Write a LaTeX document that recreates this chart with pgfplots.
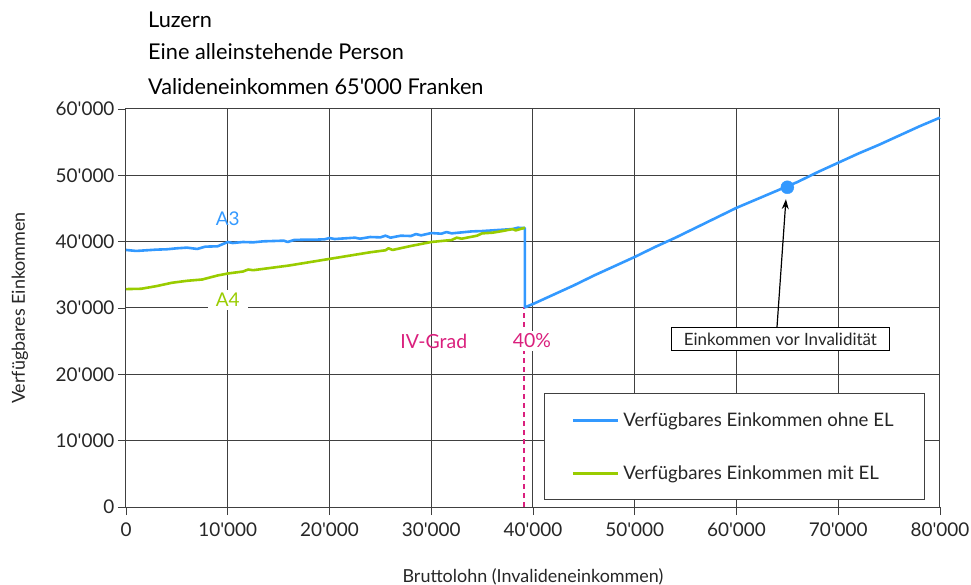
\documentclass[border=0pt]{standalone}
\usepackage{fontspec}
\setmainfont{Lato}
\usepackage{pgfplots}
\pgfplotsset{compat=1.18}
\usetikzlibrary{arrows.meta}
\definecolor{cblue}{RGB}{51,153,255}
\definecolor{cgreen}{RGB}{153,204,0}
\definecolor{cmag}{RGB}{218,32,125}
\definecolor{cgrid}{RGB}{64,64,64}
\newcommand\ap{\textquotesingle}

\pgfplotstableread{
x y
0 38750
1000 38600
2000 38700
3000 38800
4000 38850
5000 39000
6000 39100
7000 38900
7800 39250
9000 39300
10000 39950
10500 39800
11500 39950
12500 39900
13500 40050
14500 40100
15500 40150
15900 39950
16500 40250
17500 40300
18500 40300
19500 40350
20000 40550
20500 40400
21500 40500
22500 40600
23000 40450
24000 40700
25000 40650
25500 40900
26000 40600
27000 40900
28000 40850
28500 41150
29000 40950
30000 41300
31000 41200
31500 41450
32000 41250
33000 41400
34000 41550
35000 41600
36000 41700
37000 41800
38000 41900
38500 42100
39200 42050
39200 30100
40000 30600
42000 32000
44000 33400
46000 34900
48000 36300
50000 37700
52000 39200
54000 40600
56000 42100
58000 43600
60000 45100
62000 46400
64000 47700
66000 49000
68000 50500
70000 51900
72000 53300
74000 54600
76000 56000
78000 57400
80000 58700
}\ohneEL

\pgfplotstableread{
x y
0 32850
1500 32900
3000 33300
4500 33800
6000 34100
7500 34300
9000 34900
10000 35200
11500 35500
12000 35800
12500 35700
14000 36000
16000 36400
18000 36900
20000 37400
22000 37900
24000 38400
25500 38700
25800 39000
26200 38750
28000 39350
30000 39950
32000 40250
32500 40600
33000 40450
34500 40900
35000 41250
36000 41350
37000 41600
38000 41900
38300 41700
39200 42100
}\mitEL

\begin{document}
\begin{tikzpicture}
\useasboundingbox (-126bp,-78bp) rectangle (845bp,507bp);
\begin{axis}[
  at={(0,0)}, anchor=south west, scale only axis,
  width=814bp, height=398bp,
  xmin=0, xmax=80000, ymin=0, ymax=60000,
  xtick={0,10000,...,80000}, ytick={0,10000,...,60000},
  scaled ticks=false,
  /pgf/number format/assume math mode=true,
  /pgf/number format/1000 sep={\ap},
  xtick pos=left, ytick pos=left, tick align=outside,
  major tick length=8bp,
  tick style={cgrid, line width=0.9bp},
  grid=major,
  major grid style={cgrid, line width=1bp},
  axis line style={cgrid, line width=1bp},
  tick label style={font=\fontsize{19}{21}\selectfont, text=black!85},
  xticklabel style={yshift=-4bp},
  xlabel={Bruttolohn (Invalideneinkommen)},
  ylabel={Verfügbares Einkommen},
  label style={font=\fontsize{18}{20}\selectfont, text=black!85},
  xlabel style={at={(axis description cs:0.5,-0.176)}, anchor=center},
  ylabel style={at={(axis description cs:-0.1302,0.5)}, anchor=center},
  clip=false,
  legend cell align=left,
  legend style={at={(rel axis cs:0.9816,0.0176)}, anchor=south east,
    draw=cgrid, line width=0.8bp, fill=white,
    inner xsep=27bp, inner ysep=0pt, row sep=0pt,
    nodes={inner xsep=4bp, inner ysep=0pt, minimum height=53bp,
      font=\fontsize{18.7}{20}\selectfont, text=black!85}},
  legend image code/.code={\draw[#1, line width=3bp] (0bp,0bp) -- (45bp,0bp);},
]
\addplot[cmag, line width=1.5bp, dash pattern=on 5bp off 4bp, forget plot]
  coordinates {(39100,0) (39100,30100)};
\addplot[cblue, line width=2.6bp, line join=round] table[x=x,y=y] {\ohneEL};
\addlegendentry{Verfügbares Einkommen ohne EL}
\addplot[cgreen, line width=2.6bp, line join=round] table[x=x,y=y] {\mitEL};
\addlegendentry{Verfügbares Einkommen mit EL}
\addplot[cblue, only marks, mark=*, mark size=6.5bp, forget plot]
  coordinates {(65000,48200)};
\node[text=cblue, font=\fontsize{19}{21}\selectfont] at (axis cs:10000,43400) {A3};
\node[text=cgreen, fill=white, inner xsep=8bp, font=\fontsize{19}{21}\selectfont] at (axis cs:10000,31200) {A4};
\node[text=cmag, font=\fontsize{19.5}{21}\selectfont] at (axis cs:30250,25030) {IV-Grad};
\node[text=cmag, fill=white, inner xsep=2bp, font=\fontsize{19.5}{21}\selectfont] at (axis cs:39900,25030) {40\%};
\node[draw=black, line width=1bp, fill=white, anchor=north west, inner xsep=5bp, inner ysep=1bp,
  minimum width=218bp, minimum height=23bp, text=black!85,
  font=\fontsize{17}{19}\selectfont] at (axis cs:53560,27100) {Einkommen vor Invalidität};
\draw[-{Stealth[length=10bp,width=7bp]}, line width=1.2bp] (axis cs:63980,27100) -- (axis cs:64860,46400);
\end{axis}
\node[anchor=west, inner sep=0pt, font=\fontsize{21.8}{24}\selectfont] at (22bp,487bp) {Luzern};
\node[anchor=west, inner sep=0pt, font=\fontsize{21.8}{24}\selectfont] at (22bp,455bp) {Eine alleinstehende Person};
\node[anchor=west, inner sep=0pt, font=\fontsize{21.8}{24}\selectfont] at (22bp,420bp) {Valideneinkommen 65\ap 000 Franken};
\end{tikzpicture}
\end{document}
